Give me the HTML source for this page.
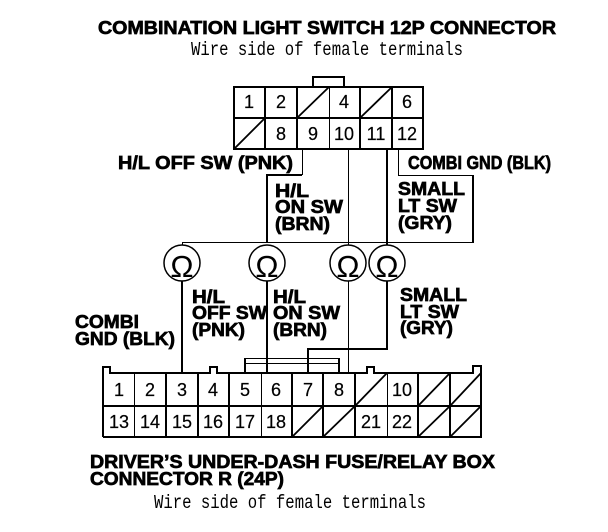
<!DOCTYPE html>
<html><head><meta charset="utf-8"><style>
html,body{margin:0;padding:0;background:#fff;width:608px;height:532px;overflow:hidden}
svg{display:block}
.b{font:bold 18.5px "Liberation Sans",sans-serif;stroke:#000;stroke-width:.7px;transform:translateY(1px)}
.n{font:18px "Liberation Sans",sans-serif;text-anchor:middle;stroke:#000;stroke-width:.2px}
.m{font:19.5px "Liberation Mono",monospace}
.o{font:31px "Liberation Sans",sans-serif;text-anchor:middle}
</style></head><body>
<svg width="608" height="532" viewBox="0 0 608 532" xmlns="http://www.w3.org/2000/svg">
<g fill="none" stroke="#000" stroke-width="2" shape-rendering="crispEdges">
<!-- top connector -->
<rect x="234" y="87" width="189" height="62"/>
<path d="M313 87V77H344V87M234 118H423M265 87V149M297 87V149M360 87V149M392 87V149"/>
<path stroke-width="1" d="M329.5 87V149"/>
<!-- wires from top connector -->
<path d="M302 175H267V243"/>
<path stroke-width="1" d="M302.5 149V175M398.5 149V175.5H473M348.5 149V245M182.5 242.5V245M182 242.5H473"/>
<path d="M473 175V243M387 149V245"/>
<path d="M182 281V373M267 281V373M387 281V349H308V373"/>
<path stroke-width="1" d="M348.5 281V373"/>
<path d="M245 373V358M339 373V358"/>
<path stroke-width="1" d="M245 358.5H339M245 363.5H339"/>
<!-- bottom connector -->
<path d="M103 437V367H110V373H210V367H217V373H367V367H374V373H473V366H481V437H103M103 406H481"/>
<path d="M166 373V437M198 373V437M229 373V437M292 373V437M323 373V437M355 373V437M418 373V437M450 373V437"/>
<path stroke-width="1" d="M134.5 373V437M261.5 373V437M387.5 373V437"/>
</g>
<g fill="none" stroke="#000" stroke-width="1.8">
<!-- diagonals -->
<path d="M297 118L329 87M360 118L392 87M234 149L265 118"/>
<path d="M355 406L387 373M418 406L450 373M450 406L481 373M292 437L323 406M323 437L355 406M418 437L450 406M450 437L481 406"/>
</g>
<g fill="none" stroke="#000" stroke-width="1.5">
<circle cx="182" cy="263" r="18"/><circle cx="267" cy="263" r="18"/><circle cx="348" cy="263" r="18"/><circle cx="387" cy="263" r="18"/>
</g>
<text class="o" x="182" y="277">Ω</text><text class="o" x="267" y="277">Ω</text><text class="o" x="348" y="277">Ω</text><text class="o" x="387" y="277">Ω</text>
<!-- titles -->
<text class="b" x="98" y="33" textLength="458" lengthAdjust="spacingAndGlyphs">COMBINATION LIGHT SWITCH 12P CONNECTOR</text>
<text class="m" x="191" y="55" textLength="272" lengthAdjust="spacingAndGlyphs">Wire side of female terminals</text>
<text class="b" x="90" y="467" textLength="405" lengthAdjust="spacingAndGlyphs">DRIVER’S UNDER-DASH FUSE/RELAY BOX</text>
<text class="b" x="90" y="484" textLength="194" lengthAdjust="spacingAndGlyphs">CONNECTOR R (24P)</text>
<text class="m" x="154" y="508" textLength="272" lengthAdjust="spacingAndGlyphs">Wire side of female terminals</text>
<!-- upper labels -->
<text class="b" x="118" y="168" textLength="175" lengthAdjust="spacingAndGlyphs">H/L OFF SW (PNK)</text>
<text class="b" x="408" y="168" textLength="143" lengthAdjust="spacingAndGlyphs">COMBI GND (BLK)</text>
<text class="b" x="275" y="196" textLength="34" lengthAdjust="spacingAndGlyphs">H/L</text>
<text class="b" x="275" y="212" textLength="68" lengthAdjust="spacingAndGlyphs">ON SW</text>
<text class="b" x="275" y="229" textLength="55" lengthAdjust="spacingAndGlyphs">(BRN)</text>
<text class="b" x="398" y="194" textLength="67" lengthAdjust="spacingAndGlyphs">SMALL</text>
<text class="b" x="398" y="211" textLength="59" lengthAdjust="spacingAndGlyphs">LT SW</text>
<text class="b" x="398" y="228" textLength="54" lengthAdjust="spacingAndGlyphs">(GRY)</text>
<!-- lower labels -->
<text class="b" x="192" y="302" textLength="33" lengthAdjust="spacingAndGlyphs">H/L</text>
<text class="b" x="192" y="318" textLength="75" lengthAdjust="spacingAndGlyphs">OFF SW</text>
<text class="b" x="192" y="335" textLength="53" lengthAdjust="spacingAndGlyphs">(PNK)</text>
<text class="b" x="273" y="302" textLength="33" lengthAdjust="spacingAndGlyphs">H/L</text>
<text class="b" x="273" y="318" textLength="67" lengthAdjust="spacingAndGlyphs">ON SW</text>
<text class="b" x="273" y="335" textLength="54" lengthAdjust="spacingAndGlyphs">(BRN)</text>
<text class="b" x="400" y="300" textLength="67" lengthAdjust="spacingAndGlyphs">SMALL</text>
<text class="b" x="400" y="317" textLength="59" lengthAdjust="spacingAndGlyphs">LT SW</text>
<text class="b" x="400" y="333" textLength="53" lengthAdjust="spacingAndGlyphs">(GRY)</text>
<text class="b" x="75" y="327" textLength="64" lengthAdjust="spacingAndGlyphs">COMBI</text>
<text class="b" x="75" y="344" textLength="100" lengthAdjust="spacingAndGlyphs">GND (BLK)</text>
<!-- top numbers -->
<text class="n" x="249" y="108">1</text><text class="n" x="281" y="108">2</text><text class="n" x="344" y="108">4</text><text class="n" x="407" y="108">6</text>
<text class="n" x="281" y="140">8</text><text class="n" x="313" y="140">9</text><text class="n" x="344" y="140">10</text><text class="n" x="376" y="140">11</text><text class="n" x="407" y="140">12</text>
<!-- bottom numbers -->
<text class="n" x="119" y="396">1</text><text class="n" x="150" y="396">2</text><text class="n" x="182" y="396">3</text><text class="n" x="213" y="396">4</text><text class="n" x="245" y="396">5</text><text class="n" x="276" y="396">6</text><text class="n" x="308" y="396">7</text><text class="n" x="339" y="396">8</text><text class="n" x="402" y="396">10</text>
<text class="n" x="119" y="428">13</text><text class="n" x="150" y="428">14</text><text class="n" x="182" y="428">15</text><text class="n" x="213" y="428">16</text><text class="n" x="245" y="428">17</text><text class="n" x="276" y="428">18</text><text class="n" x="371" y="428">21</text><text class="n" x="402" y="428">22</text>
</svg>
</body></html>
